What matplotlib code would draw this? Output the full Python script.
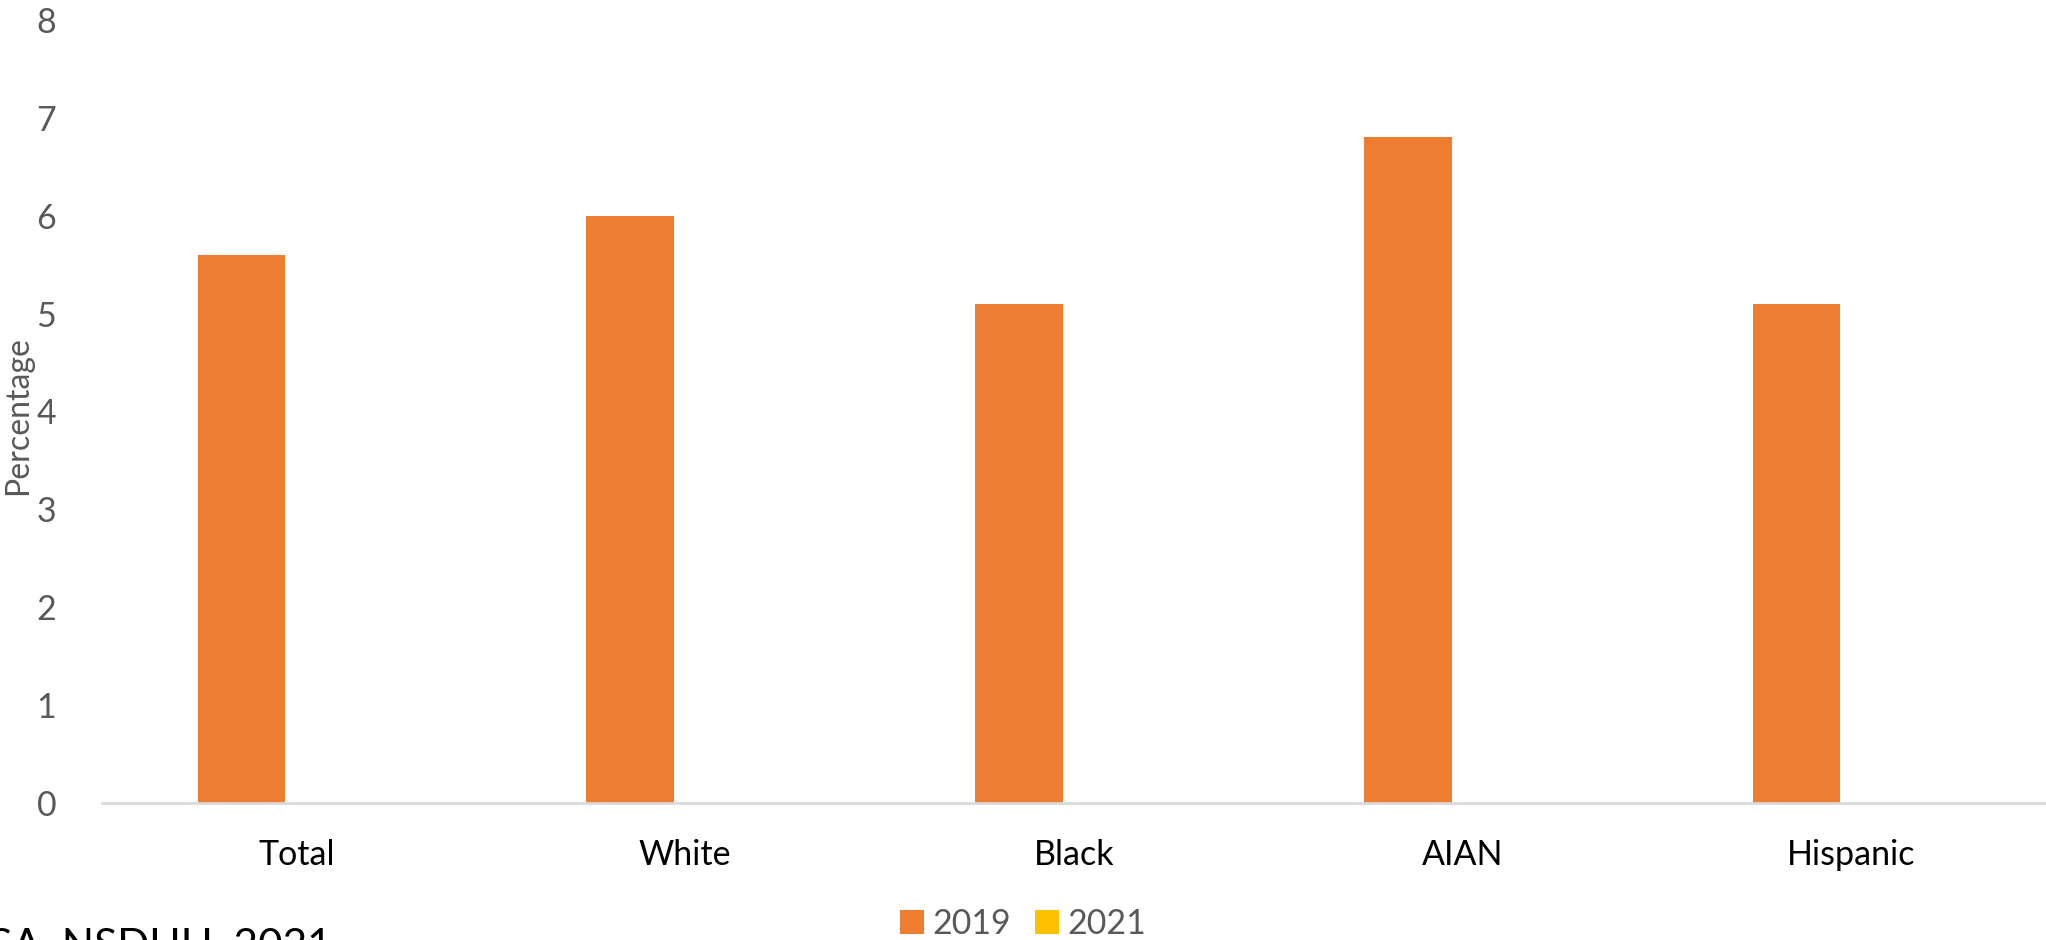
import numpy as np
import matplotlib.pyplot as plt

categories = ['Total', 'White', 'Black', 'AIAN', 'Hispanic']
values_2019 = [5.6, 6.0, 5.1, 6.8, 5.1]
values_2021 = [0, 0, 0, 0, 0]
y_ticks = [0, 1, 2, 3, 4, 5, 6, 7, 8]

plt.rcParams['font.family'] = ['Lato', 'DejaVu Sans']

fig = plt.figure(figsize=(20.46, 9.40), dpi=100)
ax = fig.add_axes([102 / 2046, 1 - 803 / 940, 1 - 102 / 2046, (803 - 20) / 940])

x = np.arange(len(categories))
w = 0.225
off = -0.1415
ax.bar(x + off, values_2019, w, color='#ED7D31', label='2019')
ax.bar(x + off + w, values_2021, w, color='#FFC000', label='2021')

ax.set_xlim(-0.5, len(categories) - 0.5)
ax.set_ylim(0, 8)
ax.set_yticks(y_ticks)
ax.set_xticks(x)
ax.set_xticklabels(categories, fontsize=24.5, color='black')
ax.tick_params(axis='y', length=0, pad=33, labelsize=24.5, labelcolor='#595959')
ax.tick_params(axis='x', length=0, pad=26)

for s in ['top', 'right', 'left']:
    ax.spines[s].set_visible(False)
ax.spines['bottom'].set_color('#D9D9D9')
ax.spines['bottom'].set_linewidth(2)

fig.text(18 / 2046, 1 - 416 / 940, 'Percentage', rotation=90, ha='center', va='center',
         fontsize=23, color='#595959')

fig.legend(loc='center', bbox_to_anchor=(0.5, 1 - 924 / 940), ncol=2, frameon=False,
           fontsize=24.5, labelcolor='#595959', handlelength=0.7, handleheight=0.7,
           handletextpad=0.25, columnspacing=0.7)

# source line, partly outside the canvas on the left
fig.text(332 / 2046, 1 - 927 / 940, 'Source: SAMHSA, NSDUH, 2021', ha='right', va='top',
         fontsize=30.5, color='black')

fig.savefig('out.png', dpi=100, facecolor='white')
